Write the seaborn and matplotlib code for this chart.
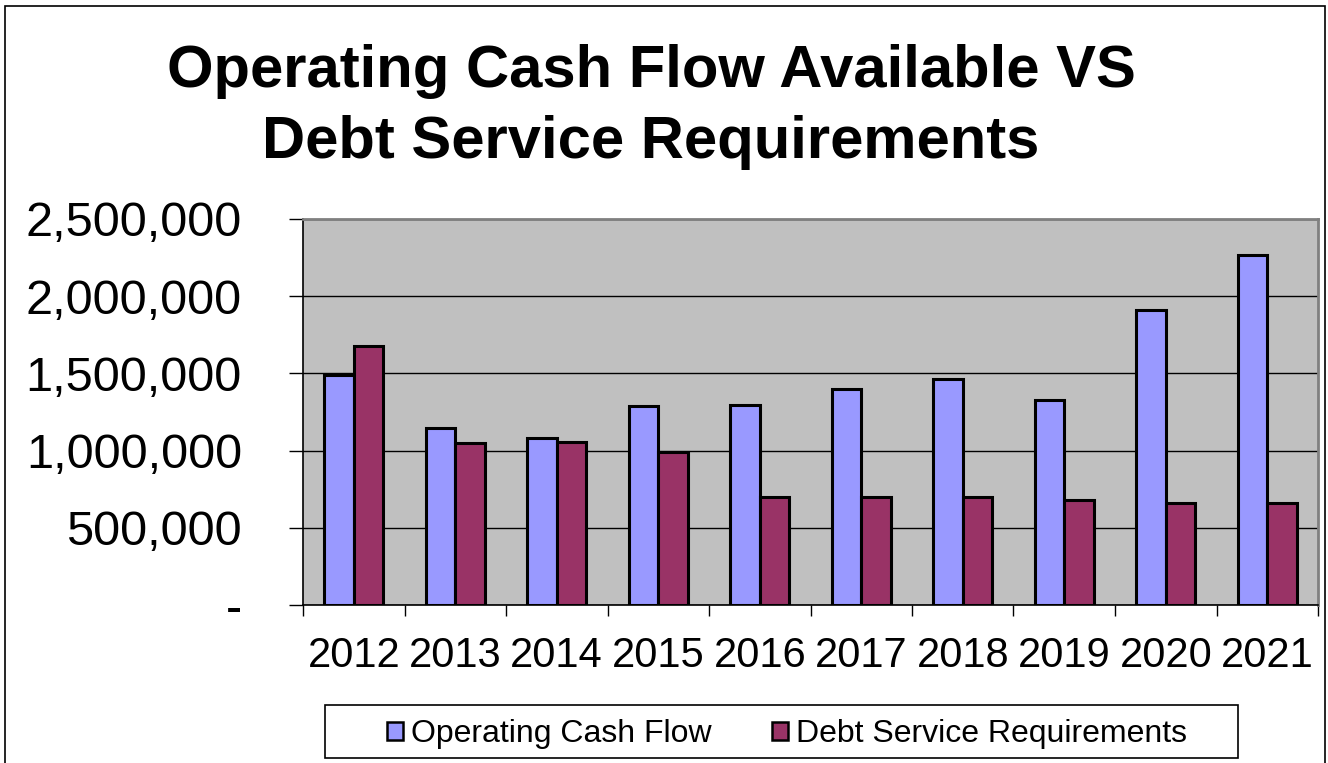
import matplotlib
matplotlib.use("Agg")
import matplotlib.pyplot as plt
import matplotlib.ticker as mticker
from matplotlib.patches import Patch, Rectangle
import seaborn as sns
import pandas as pd
import numpy as np

years = ["2012", "2013", "2014", "2015", "2016", "2017", "2018", "2019", "2020", "2021"]
operating_cash_flow = [1490000, 1148000, 1080000, 1290000, 1295000, 1401000, 1464000, 1328000, 1911000, 2265000]
debt_service = [1675000, 1051000, 1054000, 991000, 701000, 701000, 697000, 682000, 659000, 659000]
series_names = ["Operating Cash Flow", "Debt Service Requirements"]
colors = ["#9999FF", "#993366"]
y_ticks = [0, 500000, 1000000, 1500000, 2000000, 2500000]

df = pd.DataFrame({
    "Year": years * 2,
    "Value": operating_cash_flow + debt_service,
    "Series": [series_names[0]] * len(years) + [series_names[1]] * len(years),
})

sns.set_theme(style="white")
plt.rcParams["font.family"] = ["Liberation Sans", "DejaVu Sans"]
plt.rcParams["text.color"] = "black"
plt.rcParams["xtick.color"] = "black"
plt.rcParams["ytick.color"] = "black"
plt.rcParams["axes.labelcolor"] = "black"

W, H = 1328, 763
fig = plt.figure(figsize=(W / 100, H / 100), dpi=100)
ax = fig.add_axes([303 / W, 1 - 605 / H, (1318 - 303) / W, (605 - 219) / H])
ax.set_facecolor("#C0C0C0")

sns.barplot(data=df, x="Year", y="Value", hue="Series", palette=colors,
            width=0.58, gap=0, edgecolor="black", linewidth=2.2,
            ax=ax, legend=False, zorder=3, saturation=1)

ax.set_ylim(0, 2500000)
ax.set_xlim(-0.5, len(years) - 0.5)
ax.set_yticks(y_ticks)
ax.yaxis.set_major_formatter(mticker.FuncFormatter(lambda v, p: "-" if v == 0 else f"{int(v):,}"))
ax.yaxis.grid(True, color="black", linewidth=1.0, zorder=1)
ax.set_axisbelow(True)
ax.set_xlabel("")
ax.set_ylabel("")

ax.set_xticks(np.arange(len(years)))
ax.set_xticklabels(years)
ax.set_xticks(np.arange(-0.5, len(years), 1), minor=True)
ax.tick_params(axis="x", which="major", length=0, labelsize=30, pad=22, labelcolor="black")
ax.tick_params(axis="x", which="minor", length=8, width=1, color="black", direction="out", bottom=True)
ax.tick_params(axis="y", which="major", length=10, width=1, color="black", direction="out",
               labelsize=35, pad=34, left=True, labelcolor="black")

for s in ["left", "bottom"]:
    ax.spines[s].set_color("black")
    ax.spines[s].set_linewidth(1.2)
for s in ["top", "right"]:
    ax.spines[s].set_color("#808080")
    ax.spines[s].set_linewidth(2)

# Title
fig.text(651 / W, 1 - 87 / H, "Operating Cash Flow Available VS", ha="center", va="baseline",
         fontsize=43, fontweight="bold", color="black")
fig.text(651 / W, 1 - 158 / H, "Debt Service Requirements", ha="center", va="baseline",
         fontsize=43, fontweight="bold", color="black")

# Legend (box drawn separately)
handles = [Patch(facecolor=c, edgecolor="black", linewidth=1.8) for c in colors]
leg = fig.legend(handles, series_names, loc="center",
                 bbox_to_anchor=(787 / W, 1 - 734 / H),
                 ncol=2, fontsize=23, frameon=False,
                 handlelength=0.5, handleheight=0.5, handletextpad=0.25,
                 columnspacing=1.9, borderpad=0, borderaxespad=0)
for t in leg.get_texts():
    t.set_color("black")
fig.patches.append(Rectangle((325 / W, 1 - 758 / H), (1238 - 325) / W, (758 - 705) / H,
                             transform=fig.transFigure, fill=False, edgecolor="black",
                             linewidth=1.2))

# Outer chart frame
fig.patches.append(Rectangle((5 / W, -0.01), (1325 - 5) / W, (763 - 6) / H + 0.01,
                             transform=fig.transFigure, fill=False, edgecolor="black",
                             linewidth=1.2))

fig.savefig("out.png", dpi=100)
